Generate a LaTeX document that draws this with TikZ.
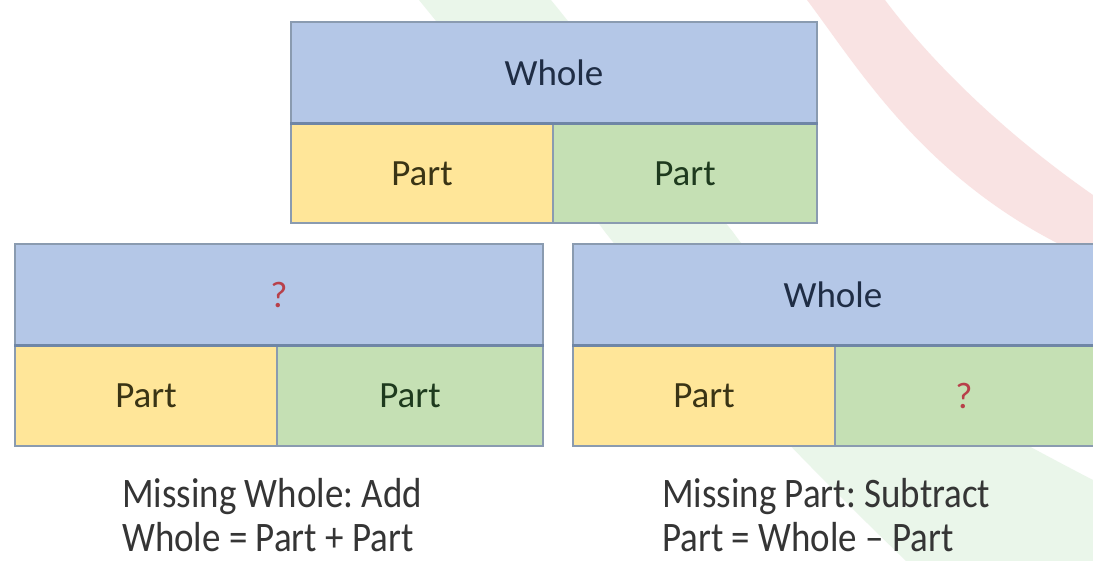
\documentclass[tikz,border=0pt]{standalone}
\usepackage{fontspec}
\setmainfont{Carlito}
\newfontfamily\capfont[FakeStretch=0.88]{Carlito}
\frenchspacing
\definecolor{wblue}{HTML}{B4C7E7}
\definecolor{pyellow}{HTML}{FFE699}
\definecolor{pgreen}{HTML}{C5E0B4}
\definecolor{cellborder}{HTML}{8A9BB0}
\definecolor{divcol}{HTML}{6F86A6}
\definecolor{wtext}{HTML}{1F2D45}
\definecolor{ytext}{HTML}{3A3415}
\definecolor{gtext}{HTML}{1E3A1E}
\definecolor{qred}{HTML}{B8404A}
\definecolor{captext}{HTML}{353535}
\definecolor{ribred}{HTML}{F8DADA}
\definecolor{ribgreen}{HTML}{E4F3E4}
\begin{document}
\begin{tikzpicture}[x=1pt,y=-1pt,
  cell/.style={draw=cellborder, line width=1.5pt, inner sep=0pt, font=\fontsize{37}{44}\selectfont},
  wholecell/.style={cell, fill=wblue, text=wtext},
  ylw/.style={cell, fill=pyellow, text=ytext},
  grn/.style={cell, fill=pgreen, text=gtext},
  divider/.style={draw=divcol, line width=3pt},
  caption/.style={anchor=base west, inner sep=0pt, text=captext, font=\capfont\fontsize{42}{48}\selectfont}]
\useasboundingbox (0,0) rectangle (1093,561);
\fill[white] (0,0) rectangle (1093,561);
% background ribbons
\fill[ribgreen, opacity=0.75] (419,0) .. controls (500,100) and (560,170) .. (605,232)
   .. controls (690,340) and (760,420) .. (906,561) -- (1093,561) -- (1093,480)
   .. controls (900,380) and (780,300) .. (733,232) .. controls (650,130) and (600,60) .. (551,0) -- cycle;
\fill[ribred, opacity=0.75] (807,0) .. controls (860,70) and (930,190) .. (1093,260) -- (1093,195)
   .. controls (1000,130) and (930,60) .. (885,0) -- cycle;
% top box
\node[wholecell, minimum width=526pt, minimum height=101pt] (tw) at (554,72.5) {Whole};
\node[ylw, minimum width=262pt, minimum height=99pt] (tp1) at (422,173.5) {Part};
\node[grn, minimum width=264pt, minimum height=99pt] (tp2) at (685,173.5) {Part};
\draw[divider] (tw.south west) -- (tw.south east);
% bottom left box
\node[wholecell, minimum width=528pt, minimum height=101pt] (lw) at (279,294.5) {\textcolor{qred}{?}};
\node[ylw, minimum width=262pt, minimum height=101pt] (lp1) at (146,395.5) {Part};
\node[grn, minimum width=266pt, minimum height=101pt] (lp2) at (410,395.5) {Part};
\draw[divider] (lw.south west) -- (lw.south east);
% bottom right box
\node[wholecell, minimum width=528pt, minimum height=101pt] (rw) at (837,294.5) {\hspace*{-8pt}Whole};
\node[ylw, minimum width=262pt, minimum height=101pt] (rp1) at (704,395.5) {Part};
\node[grn, minimum width=266pt, minimum height=101pt] (rp2) at (968,395.5) {\hspace*{-8pt}\textcolor{qred}{?}};
\draw[divider] (rw.south west) -- (rw.south east);
% captions
\node[caption] (c1) at (122,507) {Missing Whole: Add};
\node[caption] (c2) at (122,551) {Whole = Part + Part};
\node[caption] (c3) at (662,507) {Missing Part: Subtract};
\node[caption] (c4) at (662,551) {Part = Whole – Part};
\end{tikzpicture}
\end{document}
